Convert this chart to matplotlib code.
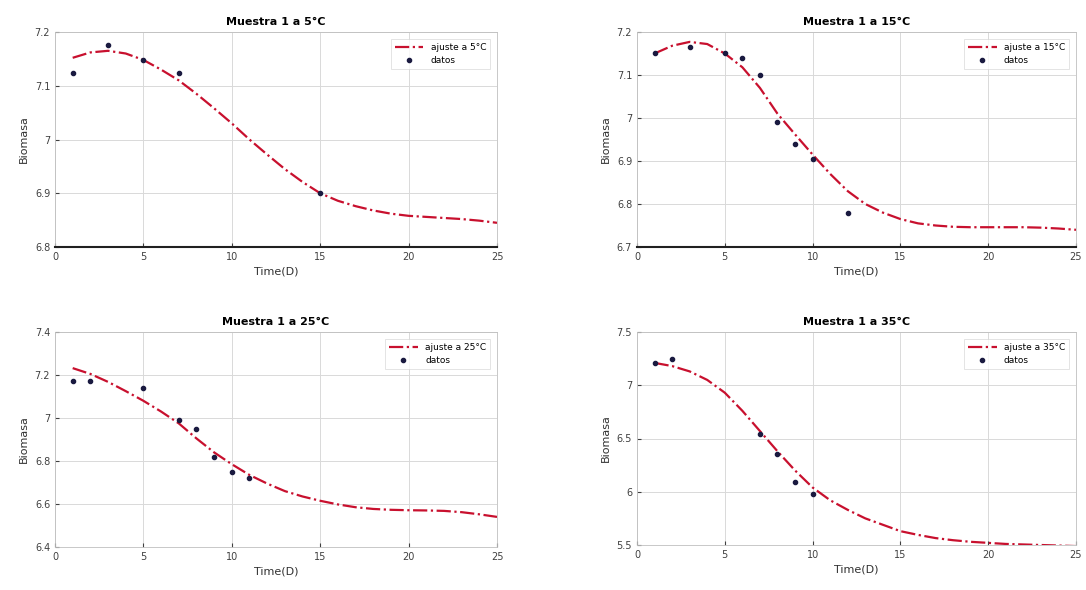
import matplotlib
matplotlib.use("Agg")
import matplotlib.pyplot as plt

days = list(range(1, 26))

fit_5 = [7.152, 7.162, 7.165, 7.160, 7.148, 7.130, 7.110, 7.085, 7.058, 7.030,
         7.000, 6.972, 6.945, 6.921, 6.900, 6.886, 6.876, 6.868, 6.862, 6.858,
         6.856, 6.854, 6.852, 6.849, 6.845]
data_x_5 = [1, 3, 5, 7, 15]
data_y_5 = [7.124, 7.176, 7.148, 7.124, 6.900]

fit_15 = [7.150, 7.168, 7.177, 7.172, 7.150, 7.118, 7.070, 7.010, 6.962, 6.915,
          6.870, 6.830, 6.800, 6.780, 6.765, 6.755, 6.750, 6.747, 6.746, 6.746,
          6.746, 6.746, 6.745, 6.743, 6.740]
data_x_15 = [1, 3, 5, 6, 7, 8, 9, 10, 12]
data_y_15 = [7.150, 7.165, 7.150, 7.140, 7.100, 6.990, 6.940, 6.905, 6.780]

fit_25 = [7.232, 7.205, 7.168, 7.125, 7.080, 7.030, 6.975, 6.905, 6.840, 6.785,
          6.735, 6.695, 6.660, 6.635, 6.615, 6.598, 6.585, 6.577, 6.573, 6.571,
          6.570, 6.568, 6.562, 6.552, 6.540]
data_x_25 = [1, 2, 5, 7, 8, 9, 10, 11]
data_y_25 = [7.170, 7.174, 7.140, 6.990, 6.950, 6.820, 6.750, 6.720]

fit_35 = [7.210, 7.180, 7.130, 7.050, 6.930, 6.760, 6.570, 6.380, 6.200, 6.040,
          5.920, 5.830, 5.750, 5.690, 5.630, 5.595, 5.565, 5.545, 5.530, 5.520,
          5.510, 5.505, 5.500, 5.495, 5.490]
data_x_35 = [1, 2, 7, 8, 9, 10]
data_y_35 = [7.210, 7.250, 6.540, 6.350, 6.090, 5.980]

titles = ["Muestra 1 a 5°C", "Muestra 1 a 15°C", "Muestra 1 a 25°C", "Muestra 1 a 35°C"]
fit_labels = ["ajuste a 5°C", "ajuste a 15°C", "ajuste a 25°C", "ajuste a 35°C"]
data_label = "datos"
xlabel = "Time(D)"
ylabel = "Biomasa"
x_ticks = [0, 5, 10, 15, 20, 25]
y_ticks = [
    [6.8, 6.9, 7.0, 7.1, 7.2],
    [6.7, 6.8, 6.9, 7.0, 7.1, 7.2],
    [6.4, 6.6, 6.8, 7.0, 7.2, 7.4],
    [5.5, 6.0, 6.5, 7.0, 7.5],
]
y_tick_labels = [
    ["6.8", "6.9", "7", "7.1", "7.2"],
    ["6.7", "6.8", "6.9", "7", "7.1", "7.2"],
    ["6.4", "6.6", "6.8", "7", "7.2", "7.4"],
    ["5.5", "6", "6.5", "7", "7.5"],
]

fits = [fit_5, fit_15, fit_25, fit_35]
dxs = [data_x_5, data_x_15, data_x_25, data_x_35]
dys = [data_y_5, data_y_15, data_y_25, data_y_35]

W, H = 1086, 590
fig = plt.figure(figsize=(W / 100, H / 100), dpi=100)
boxes = [
    (55, 32, 497, 247),
    (637, 32, 1076, 247),
    (55, 332, 497, 547),
    (637, 332, 1076, 545),
]

for i, (l, t, r, b) in enumerate(boxes):
    ax = fig.add_axes([l / W, 1 - b / H, (r - l) / W, (b - t) / H])
    ax.plot(days, fits[i], linestyle="-.", color="#c8102e", lw=1.6, label=fit_labels[i])
    ax.plot(dxs[i], dys[i], linestyle="none", marker="o", ms=3, mfc="#1a1a40",
            mec="#1a1a40", label=data_label)
    ax.set_xlim(0, 25)
    ax.set_ylim(y_ticks[i][0], y_ticks[i][-1])
    ax.set_xticks(x_ticks)
    ax.set_yticks(y_ticks[i])
    ax.set_yticklabels(y_tick_labels[i])
    ax.grid(True, color="#d9d9d9", lw=0.7)
    ax.set_axisbelow(True)
    ax.tick_params(labelsize=7, colors="#404040", length=3, direction="in")
    for s in ax.spines.values():
        s.set_color("#bfbfbf")
        s.set_linewidth(0.6)
    if i < 2:
        ax.spines["bottom"].set_color("#202020")
        ax.spines["bottom"].set_linewidth(1.5)
    ax.set_title(titles[i], fontsize=8, fontweight="bold", pad=5)
    ax.set_xlabel(xlabel, fontsize=8, color="#303030", labelpad=3)
    ax.set_ylabel(ylabel, fontsize=8, color="#303030", labelpad=4)
    leg = ax.legend(loc="upper right", fontsize=6.5, frameon=True, fancybox=False,
                    edgecolor="#d0d0d0", borderaxespad=0.8, handlelength=3.2)
    leg.get_frame().set_linewidth(0.5)

fig.savefig("out.png", dpi=100)
